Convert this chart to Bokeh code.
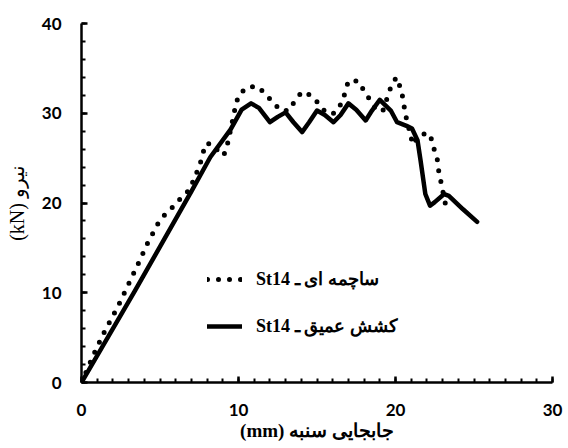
from bokeh.plotting import figure
from bokeh.models import Range1d, Legend, LegendItem, SingleIntervalTicker
from bokeh.embed import file_html
from bokeh.resources import INLINE

# Series: deep drawing (solid) and shot/sheet (dotted) - St14
deep_x = [0, 3.4, 7.0, 8.2, 9.5, 10.2, 10.8, 11.3, 12.0, 12.5, 13.0, 13.5, 14.05, 14.5, 15.0, 15.5,
          16.05, 16.5, 17.0, 17.5, 18.1, 18.5, 19.0, 19.7, 20.1, 20.7, 21.05, 21.4, 21.6, 21.9,
          22.2, 22.5, 23.1, 23.4, 24.3, 25.2]
deep_y = [0, 10.2, 21.3, 25.1, 28.2, 30.4, 31.1, 30.6, 29.0, 29.6, 30.1, 29.0, 27.9, 29.0, 30.3, 29.8,
          29.0, 29.8, 31.1, 30.4, 29.2, 30.3, 31.5, 30.3, 29.0, 28.6, 28.3, 27.0, 24.7, 21.0,
          19.7, 20.1, 21.0, 20.8, 19.3, 17.9]

shot_x = [0, 0.9, 1.5, 2.3, 2.9, 3.55, 4.2, 4.9, 5.35, 5.9, 6.4, 6.95, 7.15, 7.5, 7.9, 8.3, 8.7,
          9.06, 9.3, 9.55, 9.8, 10.0, 10.55, 11.2, 11.7, 12.2, 12.7, 13.2, 13.6, 14.05, 14.6, 15.1,
          15.6, 16.1, 16.6, 17.0, 17.6, 18.0, 18.4, 18.8, 19.2, 19.7, 20.05, 20.3, 20.5, 20.6,
          20.9, 21.1, 21.5, 21.8, 22.2, 22.4, 22.65, 22.75, 22.9, 23.2]
shot_y = [0, 3.6, 5.8, 8.4, 10.6, 13.0, 15.5, 17.8, 18.8, 19.7, 20.7, 21.6, 22.7, 24.0, 26.6, 26.6, 25.8,
          25.3, 26.6, 28.6, 30.7, 32.0, 32.9, 33.0, 32.2, 31.2, 30.3, 30.3, 31.4, 32.4, 32.0, 31.1,
          30.0, 30.0, 31.2, 33.6, 33.6, 32.5, 31.4, 30.3, 30.3, 32.9, 34.0, 32.9, 31.5, 30.1,
          28.0, 26.5, 27.5, 27.7, 27.7, 26.3, 25.0, 23.6, 22.3, 19.7]

label_shot = "St14 ساچمه ای ـ"
label_deep = "St14 کشش عمیق ـ"
x_title = "(mm) جابجایی سنبه"
y_title = "(kN) نیرو"

p = figure(width=568, height=448, output_backend="svg", toolbar_location=None,
           x_range=Range1d(0, 30), y_range=Range1d(0, 40),
           min_border_left=81, min_border_top=23, min_border_right=16, min_border_bottom=66)
p.outline_line_color = None
p.grid.visible = False
p.background_fill_color = "white"

r_shot = p.line(shot_x, shot_y, line_color="black", line_width=5, line_dash="0 11",
                line_cap="round")
r_deep = p.line(deep_x, deep_y, line_color="black", line_width=4.5, line_join="round",
                line_cap="round")

p.xaxis.ticker = SingleIntervalTicker(interval=10, num_minor_ticks=10)
p.yaxis.ticker = SingleIntervalTicker(interval=10, num_minor_ticks=5)
for ax in (p.xaxis[0], p.yaxis[0]):
    ax.axis_line_width = 2.5
    ax.axis_line_color = "black"
    ax.major_tick_in = 6
    ax.major_tick_out = 0
    ax.minor_tick_in = 4
    ax.minor_tick_out = 0
    ax.major_tick_line_width = 2.5
    ax.minor_tick_line_width = 2
    ax.major_tick_line_color = "black"
    ax.minor_tick_line_color = "black"
    ax.major_label_text_font = "Lato"
    ax.major_label_text_font_style = "bold"
    ax.major_label_text_font_size = "17px"
    ax.major_label_text_color = "black"
    ax.axis_label_text_font = "Liberation Serif"
    ax.axis_label_text_color = "black"

p.xaxis.axis_label = x_title
p.xaxis.axis_label_text_font_size = "19px"
p.xaxis.axis_label_text_font_style = "bold"
p.xaxis.major_label_standoff = 21
p.xaxis.axis_label_standoff = 1
p.yaxis.axis_label = y_title
p.yaxis.axis_label_text_font_size = "20px"
p.yaxis.axis_label_text_font_style = "normal"
p.yaxis.major_label_standoff = 20
p.yaxis.axis_label_standoff = 11

legend = Legend(items=[LegendItem(label=label_shot, renderers=[r_shot]),
                       LegendItem(label=label_deep, renderers=[r_deep])],
                location=(126, 45), padding=0, margin=0, spacing=25,
                glyph_width=35, glyph_height=20, label_height=20, label_standoff=14,
                border_line_color=None, background_fill_alpha=0,
                label_text_font="Liberation Serif", label_text_font_style="bold",
                label_text_font_size="18px", label_text_color="black")
p.add_layout(legend, "center")

open("out.html", "w").write(file_html(p, INLINE))
